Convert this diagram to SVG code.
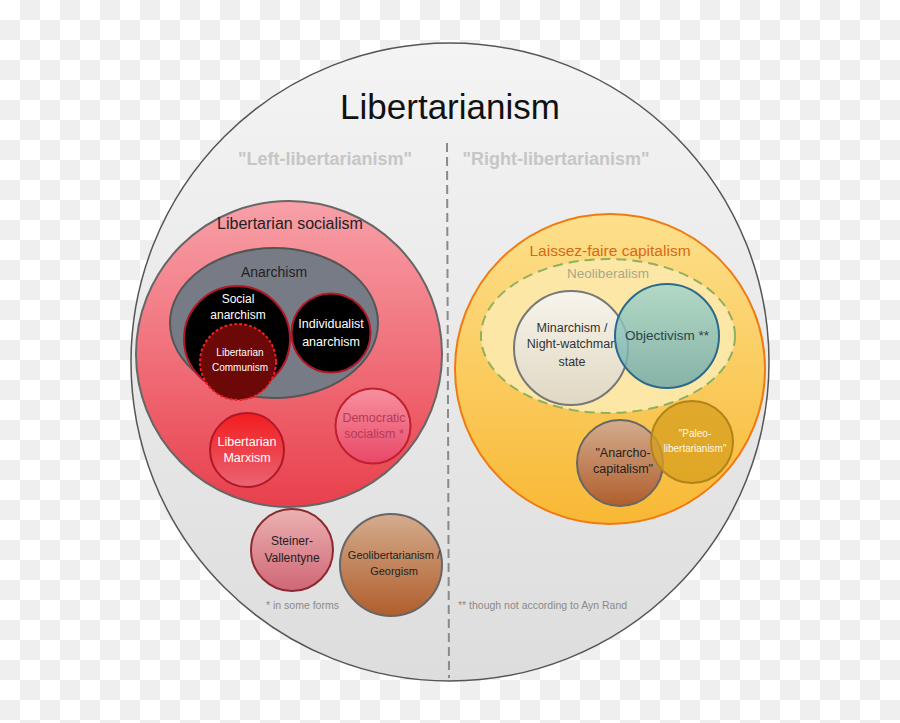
<svg xmlns="http://www.w3.org/2000/svg" width="900" height="723" viewBox="0 0 900 723">
<defs>
<pattern id="chk" width="40" height="40" patternUnits="userSpaceOnUse">
<rect width="40" height="40" fill="#ffffff"/>
<rect x="20" y="0" width="20" height="20" fill="#efefef"/>
<rect x="0" y="20" width="20" height="20" fill="#efefef"/>
</pattern>
<linearGradient id="gBig" x1="0" y1="0" x2="0" y2="1"><stop offset="0" stop-color="#f4f4f4"/><stop offset="1" stop-color="#dddddd"/></linearGradient>
<linearGradient id="gSoc" x1="0" y1="0" x2="0" y2="1"><stop offset="0" stop-color="#f8a0a8"/><stop offset="1" stop-color="#e8404c"/></linearGradient>
<linearGradient id="gLf" x1="0" y1="0" x2="0" y2="1"><stop offset="0" stop-color="#fde08c"/><stop offset="1" stop-color="#f8b834"/></linearGradient>
<linearGradient id="gMin" x1="0" y1="0" x2="0" y2="1"><stop offset="0" stop-color="#f7f4ec"/><stop offset="1" stop-color="#e0d8c2"/></linearGradient>
<linearGradient id="gObj" x1="0" y1="0" x2="0" y2="1"><stop offset="0" stop-color="#a2d6cc"/><stop offset="1" stop-color="#6ca6a8"/></linearGradient>
<linearGradient id="gBrown" x1="0" y1="0" x2="0" y2="1"><stop offset="0" stop-color="#d4ac8e"/><stop offset="1" stop-color="#b05e2c"/></linearGradient>
<linearGradient id="gSteiner" x1="0" y1="0" x2="0" y2="1"><stop offset="0" stop-color="#ebb2b2"/><stop offset="1" stop-color="#d06676"/></linearGradient>
<linearGradient id="gDem" x1="0" y1="0" x2="0" y2="1"><stop offset="0" stop-color="#f8909e"/><stop offset="1" stop-color="#e84868"/></linearGradient>
<linearGradient id="gMarx" x1="0" y1="0" x2="0" y2="1"><stop offset="0" stop-color="#f21c1e"/><stop offset="1" stop-color="#ea6474"/></linearGradient>
</defs>
<style>
text{font-family:"Liberation Sans",Arial,sans-serif;text-anchor:middle}
.w{fill:#ffffff}
.d{fill:#222222}
.side{font-weight:bold;font-size:18px;fill:#c6c6c6}
.note{font-size:10.5px;fill:#8a8a8a;text-anchor:start}
</style>
<rect width="900" height="723" fill="url(#chk)"/>

<g id="libertarianism">
<circle cx="450" cy="362" r="319" fill="url(#gBig)" stroke="#555555" stroke-width="1.5"/>
<text x="450" y="119" font-size="35" fill="#111111">Libertarianism</text>
</g>

<g id="connectors">
<line x1="447" y1="143" x2="449" y2="678" stroke="#8a8a8a" stroke-width="2" stroke-dasharray="9,5"/>
</g>

<g id="left-libertarianism"><text class="side" x="325" y="165">"Left-libertarianism"</text></g>
<g id="right-libertarianism"><text class="side" x="556" y="165">"Right-libertarianism"</text></g>

<g id="libertarian-socialism">
<circle cx="289" cy="354" r="153" fill="url(#gSoc)" stroke="#666666" stroke-width="2"/>
<text x="290" y="229" font-size="16" class="d">Libertarian socialism</text>
</g>

<g id="anarchism">
<ellipse cx="274" cy="323" rx="104" ry="75" fill="#777b85" stroke="#555555" stroke-width="2"/>
<text x="274" y="277" font-size="14" class="d">Anarchism</text>
</g>

<g id="social-anarchism">
<circle cx="237" cy="339" r="53" fill="#000000" stroke="#b01828" stroke-width="2"/>
<text x="238" y="303" font-size="12" class="w">Social</text>
<text x="238" y="319" font-size="12" class="w">anarchism</text>
</g>

<g id="libertarian-communism">
<circle cx="238" cy="362" r="38" fill="#6c0808" stroke="#ee2222" stroke-width="2" stroke-dasharray="3,2"/>
<text x="240" y="356" font-size="10" class="w">Libertarian</text>
<text x="240" y="371" font-size="10" class="w">Communism</text>
</g>

<g id="individualist-anarchism">
<circle cx="331" cy="333" r="39.5" fill="#000000" stroke="#b01828" stroke-width="2"/>
<text x="331" y="328" font-size="12.5" class="w">Individualist</text>
<text x="331" y="346" font-size="12.5" class="w">anarchism</text>
</g>

<g id="democratic-socialism">
<circle cx="373" cy="426" r="37.5" fill="url(#gDem)" stroke="#c0202e" stroke-width="2"/>
<text x="374" y="422" font-size="12.5" fill="#b43a58">Democratic</text>
<text x="374" y="438" font-size="12.5" fill="#b43a58">socialism *</text>
</g>

<g id="libertarian-marxism">
<circle cx="247" cy="450" r="37" fill="url(#gMarx)" stroke="#b01828" stroke-width="2"/>
<text x="247" y="446" font-size="12.5" class="w">Libertarian</text>
<text x="247" y="462" font-size="12.5" class="w">Marxism</text>
</g>

<g id="laissez-faire-capitalism">
<circle cx="610" cy="369" r="155" fill="url(#gLf)" stroke="#f07a10" stroke-width="2"/>
<text x="610" y="256" font-size="15.5" fill="#d86818">Laissez-faire capitalism</text>
</g>

<g id="neoliberalism">
<ellipse cx="608" cy="336" rx="127" ry="77" fill="#fde7a6" stroke="#90b060" stroke-width="2" stroke-dasharray="10,6"/>
<text x="608" y="278" font-size="13.5" fill="#a8a888">Neoliberalism</text>
</g>

<g id="minarchism">
<circle cx="571" cy="348" r="57" fill="url(#gMin)" stroke="#777777" stroke-width="2"/>
<text x="572" y="332" font-size="12.5" fill="#333333">Minarchism /</text>
<text x="572" y="348" font-size="12.5" fill="#333333">Night-watchman</text>
<text x="572" y="366" font-size="12.5" fill="#333333">state</text>
</g>

<g id="objectivism">
<circle cx="667" cy="336" r="52" fill="url(#gObj)" fill-opacity="0.82" stroke="#2a6a8a" stroke-width="2"/>
<text x="667" y="340" font-size="13.5" fill="#2a4448">Objectivism **</text>
</g>

<g id="anarcho-capitalism">
<circle cx="620" cy="463" r="43" fill="url(#gBrown)" stroke="#666666" stroke-width="2"/>
<text x="623" y="457" font-size="12.5" class="d">"Anarcho-</text>
<text x="623" y="473" font-size="12.5" class="d">capitalism"</text>
</g>

<g id="paleo-libertarianism">
<circle cx="692" cy="442" r="41" fill="#d8a020" fill-opacity="0.78" stroke="#b08418" stroke-width="2"/>
<text x="695" y="437" font-size="10" fill="#fff8e6">"Paleo-</text>
<text x="695" y="452" font-size="10" fill="#fff8e6">libertarianism"</text>
</g>

<g id="steiner-vallentyne">
<circle cx="292" cy="550" r="41" fill="url(#gSteiner)" stroke="#8a2a30" stroke-width="2"/>
<text x="292" y="545" font-size="12" class="d">Steiner-</text>
<text x="292" y="562" font-size="12" class="d">Vallentyne</text>
</g>

<g id="geolibertarianism">
<circle cx="391" cy="565" r="51" fill="url(#gBrown)" stroke="#666666" stroke-width="2"/>
<text x="394" y="559" font-size="11" class="d">Geolibertarianism /</text>
<text x="394" y="575" font-size="11" class="d">Georgism</text>
</g>

<g id="notes">
<text class="note" x="266" y="609">* in some forms</text>
<text class="note" x="458" y="609">** though not according to Ayn Rand</text>
</g>
</svg>
